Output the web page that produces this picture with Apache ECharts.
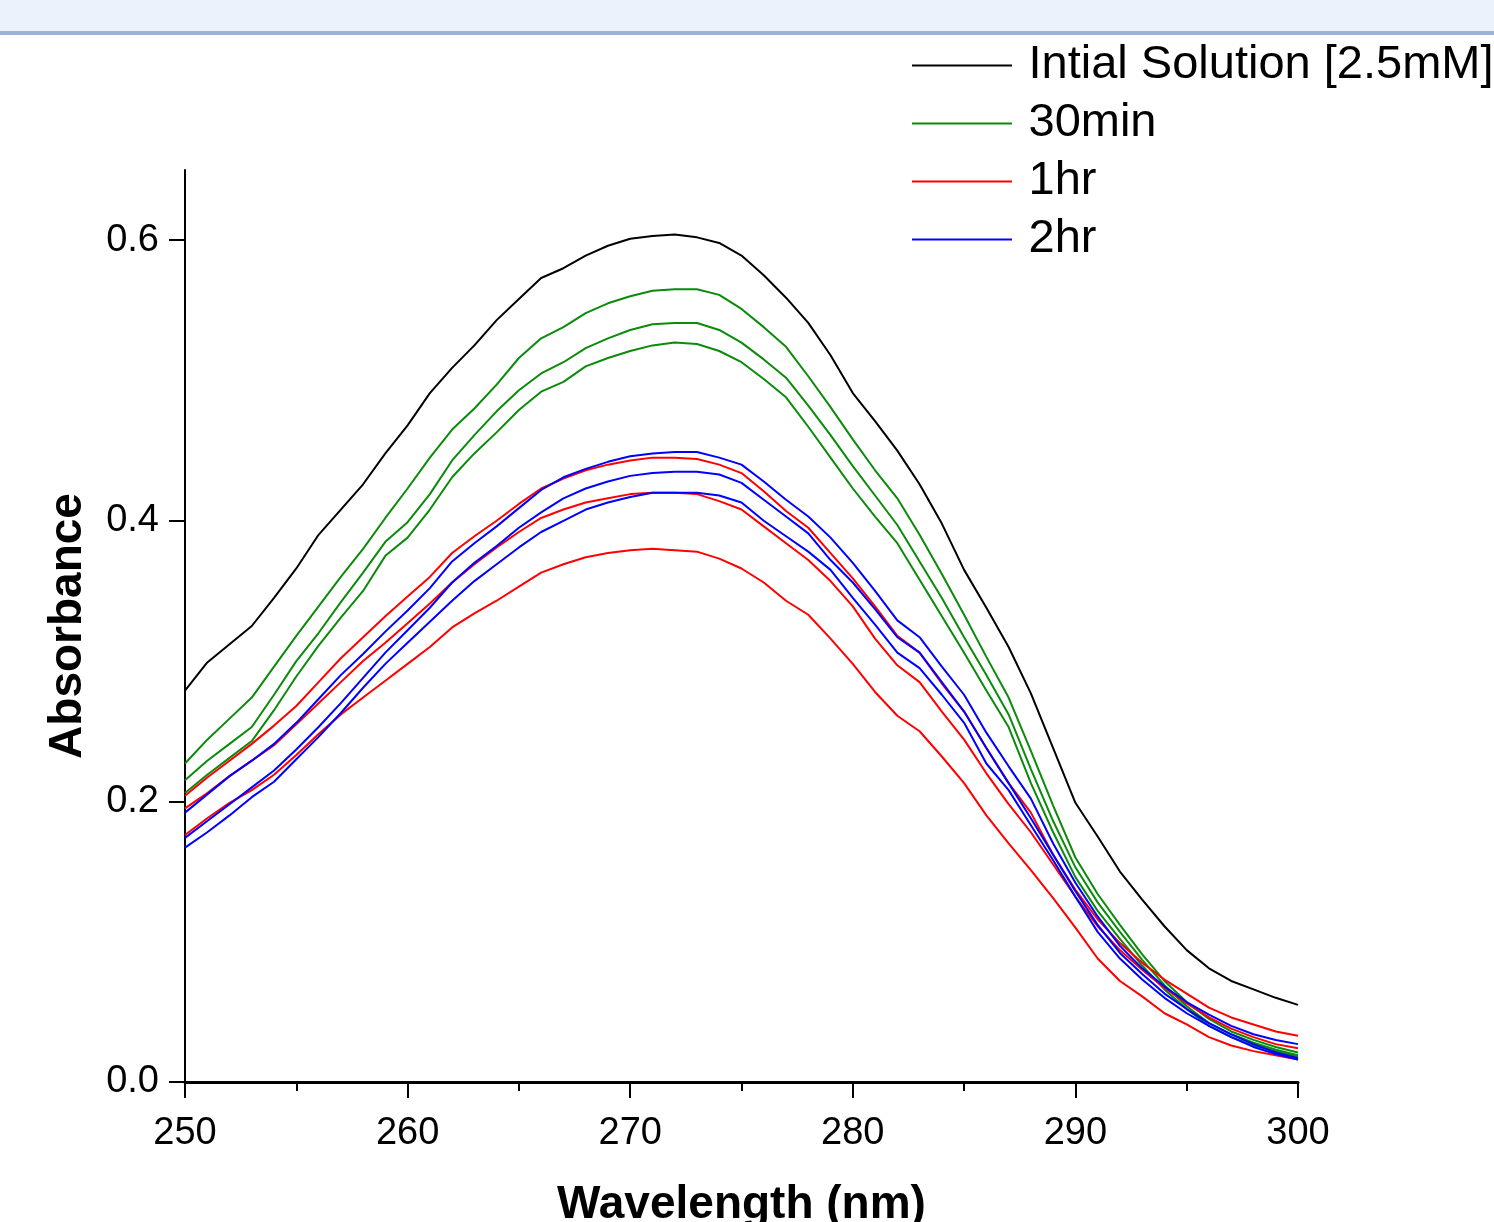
<!DOCTYPE html>
<html>
<head>
<meta charset="utf-8">
<script src="https://cdn.jsdelivr.net/npm/echarts@6/dist/echarts.min.js"></script>
<style>
html,body{margin:0;padding:0;background:#fff;}
#chart{width:1494px;height:1222px;}
</style>
</head>
<body>
<div id="chart"></div>
<script>
// Wavelength (nm), 1 nm steps
const wavelengths = [];
for (let w = 250; w <= 300; w++) wavelengths.push(w);

const legendNames = ['Intial Solution [2.5mM]', '30min', '1hr', '2hr'];
const xTicks = [250, 260, 270, 280, 290, 300];
const yTicks = [0.0, 0.2, 0.4, 0.6];

// Initial solution
const initial = [0.279,0.299,0.312,0.325,0.345,0.366,0.390,0.408,0.426,0.448,0.468,0.491,0.509,0.525,0.543,0.558,0.573,0.580,0.589,0.596,0.601,0.603,0.604,0.602,0.598,0.589,0.575,0.559,0.541,0.518,0.491,0.471,0.450,0.426,0.398,0.365,0.338,0.310,0.277,0.238,0.199,0.175,0.150,0.130,0.111,0.094,0.081,0.072,0.066,0.060,0.055];

// 30 min (three runs)
const min30a = [0.227,0.244,0.259,0.274,0.296,0.318,0.339,0.360,0.380,0.402,0.423,0.445,0.465,0.480,0.497,0.516,0.530,0.538,0.548,0.555,0.560,0.564,0.565,0.565,0.561,0.551,0.538,0.524,0.503,0.481,0.458,0.436,0.416,0.390,0.362,0.333,0.303,0.274,0.236,0.197,0.160,0.134,0.112,0.091,0.072,0.057,0.045,0.036,0.030,0.025,0.021];
const min30b = [0.215,0.229,0.241,0.253,0.276,0.300,0.320,0.342,0.363,0.385,0.399,0.419,0.443,0.461,0.478,0.493,0.505,0.513,0.523,0.530,0.536,0.540,0.541,0.541,0.536,0.527,0.515,0.502,0.482,0.461,0.439,0.418,0.397,0.371,0.345,0.317,0.290,0.262,0.223,0.186,0.153,0.128,0.107,0.087,0.069,0.054,0.042,0.034,0.028,0.023,0.019];
const min30c = [0.206,0.219,0.231,0.243,0.265,0.289,0.311,0.331,0.350,0.375,0.388,0.408,0.431,0.448,0.463,0.479,0.492,0.499,0.510,0.516,0.521,0.525,0.527,0.526,0.521,0.513,0.501,0.488,0.467,0.445,0.423,0.403,0.384,0.358,0.332,0.306,0.279,0.253,0.213,0.178,0.146,0.122,0.102,0.083,0.066,0.052,0.040,0.032,0.026,0.022,0.018];

// 1 hr (three runs)
const hr1a = [0.204,0.217,0.229,0.241,0.254,0.268,0.285,0.302,0.317,0.332,0.346,0.360,0.377,0.389,0.400,0.412,0.423,0.430,0.436,0.440,0.443,0.445,0.445,0.444,0.440,0.434,0.421,0.407,0.395,0.377,0.359,0.339,0.318,0.306,0.284,0.264,0.238,0.213,0.192,0.162,0.137,0.116,0.099,0.085,0.073,0.063,0.053,0.046,0.041,0.036,0.033];
const hr1b = [0.195,0.206,0.218,0.229,0.240,0.255,0.270,0.285,0.300,0.313,0.327,0.341,0.356,0.369,0.381,0.392,0.402,0.408,0.413,0.416,0.419,0.420,0.420,0.419,0.414,0.408,0.396,0.384,0.372,0.357,0.339,0.316,0.297,0.285,0.264,0.244,0.220,0.198,0.178,0.155,0.132,0.111,0.094,0.080,0.067,0.056,0.046,0.038,0.032,0.027,0.024];
const hr1c = [0.176,0.188,0.199,0.208,0.219,0.233,0.248,0.262,0.274,0.286,0.298,0.310,0.324,0.334,0.343,0.353,0.363,0.369,0.374,0.377,0.379,0.380,0.379,0.378,0.373,0.366,0.356,0.343,0.333,0.316,0.298,0.278,0.261,0.250,0.232,0.213,0.190,0.170,0.151,0.131,0.110,0.088,0.072,0.061,0.049,0.041,0.032,0.026,0.022,0.019,0.016];

// 2 hr (three runs)
const hr2a = [0.192,0.205,0.218,0.229,0.241,0.256,0.273,0.290,0.305,0.321,0.336,0.352,0.371,0.384,0.396,0.409,0.422,0.431,0.437,0.442,0.446,0.448,0.449,0.449,0.445,0.440,0.428,0.415,0.403,0.388,0.370,0.350,0.329,0.317,0.296,0.276,0.249,0.225,0.202,0.170,0.142,0.118,0.097,0.081,0.068,0.057,0.048,0.040,0.034,0.030,0.027];
const hr2b = [0.174,0.186,0.198,0.210,0.222,0.237,0.253,0.270,0.288,0.306,0.322,0.338,0.356,0.370,0.382,0.395,0.406,0.416,0.423,0.428,0.432,0.434,0.435,0.435,0.433,0.427,0.415,0.403,0.391,0.372,0.356,0.337,0.317,0.306,0.285,0.264,0.238,0.213,0.188,0.162,0.136,0.112,0.092,0.077,0.063,0.052,0.042,0.034,0.027,0.021,0.017];
const hr2c = [0.167,0.178,0.190,0.203,0.214,0.230,0.246,0.263,0.281,0.298,0.313,0.328,0.343,0.357,0.369,0.381,0.392,0.400,0.408,0.413,0.417,0.420,0.420,0.420,0.418,0.413,0.400,0.389,0.378,0.365,0.345,0.326,0.306,0.295,0.276,0.256,0.227,0.208,0.183,0.158,0.132,0.107,0.088,0.073,0.060,0.049,0.040,0.032,0.025,0.020,0.016];

const FONT = 'Arial, "Liberation Sans", sans-serif';

function pairs(vals) { return wavelengths.map((w, i) => [w, vals[i]]); }
function mk(name, color, vals) {
  return {
    name: name, type: 'line', data: pairs(vals), symbol: 'none', showSymbol: false,
    lineStyle: { color: color, width: 2 }, itemStyle: { color: color },
    emphasis: { disabled: true }, animation: false
  };
}

const GREEN = '#0b8a0b', RED = '#ff0000', BLUE = '#0000ff';

const chart = echarts.init(document.getElementById('chart'), null, { renderer: 'canvas' });
chart.setOption({
  animation: false,
  backgroundColor: '#ffffff',
  graphic: [
    { type: 'rect', shape: { x: 0, y: 0, width: 1494, height: 31 }, style: { fill: '#ebf2fb' }, silent: true },
    { type: 'rect', shape: { x: 0, y: 31, width: 1494, height: 4 }, style: { fill: '#9cb2d8' }, silent: true }
  ],
  grid: { left: 185, right: 196, top: 170, bottom: 140, containLabel: false, outerBoundsMode: 'none' },
  legend: {
    data: legendNames,
    orient: 'vertical',
    left: 912, top: 42, padding: 0,
    itemWidth: 103, itemHeight: 2, itemGap: 11,
    icon: 'path://M0,0 L100,0 L100,2 L0,2 Z',
    textStyle: { fontSize: 47, fontFamily: FONT, color: '#000', padding: [0, 0, 0, 10] },
    selectedMode: false
  },
  xAxis: {
    type: 'value', min: 250, max: 300, interval: 10,
    name: 'Wavelength (nm)', nameLocation: 'middle', nameGap: 100,
    nameTextStyle: { fontSize: 46, fontWeight: 'bold', fontFamily: FONT, color: '#000' },
    axisLine: { show: true, onZero: false, lineStyle: { color: '#000', width: 3 } },
    axisTick: { show: true, inside: false, length: 16, lineStyle: { color: '#000', width: 2 } },
    minorTick: { show: true, splitNumber: 2, length: 9, lineStyle: { color: '#000', width: 2 } },
    axisLabel: { fontSize: 38, fontFamily: FONT, color: '#000', margin: 33 },
    splitLine: { show: false }, minorSplitLine: { show: false }
  },
  yAxis: {
    type: 'value', min: 0, max: 0.65,
    name: 'Absorbance', nameLocation: 'middle', nameGap: 94, nameRotate: 90,
    nameTextStyle: { fontSize: 46, fontWeight: 'bold', fontFamily: FONT, color: '#000' },
    axisLine: { show: true, onZero: false, lineStyle: { color: '#000', width: 2 } },
    axisTick: { show: true, inside: false, length: 16, customValues: yTicks, lineStyle: { color: '#000', width: 2 } },
    axisLabel: { fontSize: 38, fontFamily: FONT, color: '#000', margin: 26, customValues: yTicks,
      formatter: v => v.toFixed(1) },
    splitLine: { show: false }
  },
  series: [
    mk(legendNames[0], '#000000', initial),
    mk(legendNames[1], GREEN, min30a),
    mk(legendNames[1], GREEN, min30b),
    mk(legendNames[1], GREEN, min30c),
    mk(legendNames[2], RED, hr1a),
    mk(legendNames[2], RED, hr1b),
    mk(legendNames[2], RED, hr1c),
    mk(legendNames[3], BLUE, hr2a),
    mk(legendNames[3], BLUE, hr2b),
    mk(legendNames[3], BLUE, hr2c)
  ]
});
</script>
</body>
</html>
